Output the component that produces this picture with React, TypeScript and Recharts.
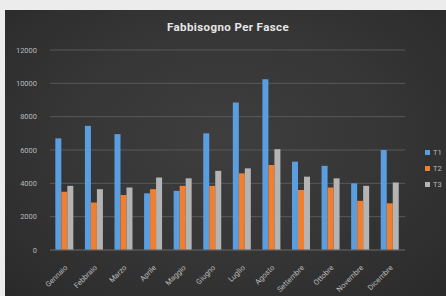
import React from 'react';
import { BarChart, Bar, XAxis, YAxis, CartesianGrid } from 'recharts';

const months = ['Gennaio', 'Febbraio', 'Marzo', 'Aprile', 'Maggio', 'Giugno', 'Luglio', 'Agosto', 'Settembre', 'Ottobre', 'Novembre', 'Dicembre'];
const t1 = [6700, 7450, 6950, 3400, 3550, 7000, 8850, 10250, 5300, 5050, 4000, 6000];
const t2 = [3500, 2850, 3300, 3650, 3850, 3850, 4600, 5100, 3600, 3750, 2950, 2800];
const t3 = [3850, 3650, 3750, 4350, 4300, 4750, 4900, 6050, 4400, 4300, 3850, 4050];
const yTicks = [0, 2000, 4000, 6000, 8000, 10000, 12000];
const seriesNames = ['T1', 'T2', 'T3'];
const seriesColors = ['#5b9ee0', '#f07f32', '#b4b4b4'];

const data = months.map((m, i) => ({ month: m, T1: t1[i], T2: t2[i], T3: t3[i] }));

const FONT = 'Roboto, "DejaVu Sans", sans-serif';

const XTick = (props: any) => {
  const { x, y, payload } = props;
  return (
    <g transform={`translate(${x + 1},${y + 8})`}>
      <text textAnchor="end" transform="rotate(-45)" fill="#b8b8b8" fontSize={7.5} fontFamily={FONT} dy={3}>
        {payload.value}
      </text>
    </g>
  );
};

export default function App() {
  return (
    <div style={{ position: 'fixed', left: 0, top: 0, width: 446, height: 296, background: '#ececec', overflow: 'hidden' }}>
      <div
        style={{
          position: 'absolute',
          left: 5,
          top: 10,
          width: 441,
          height: 286,
          background: 'radial-gradient(ellipse at 50% 45%, #3e3e3e 0%, #363636 50%, #2a2a2a 100%)',
        }}
      />
      <div
        style={{
          position: 'absolute',
          left: 0,
          top: 20,
          width: 456,
          textAlign: 'center',
          color: '#e6e6e6',
          fontFamily: FONT,
          fontWeight: 'bold',
          fontSize: 11.5,
          letterSpacing: 0.4,
        }}
      >
        Fabbisogno Per Fasce
      </div>
      <div style={{ position: 'absolute', left: 0, top: 0 }}>
        <BarChart
          width={446}
          height={296}
          data={data}
          margin={{ top: 50, right: 41, left: 10, bottom: 6 }}
          barCategoryGap="18%"
          barGap={0}
        >
          <CartesianGrid vertical={false} stroke="#595959" strokeWidth={1} />
          <XAxis
            dataKey="month"
            height={40}
            axisLine={{ stroke: '#595959' }}
            tickLine={false}
            interval={0}
            tick={<XTick />}
          />
          <YAxis
            width={40}
            domain={[0, 12000]}
            ticks={yTicks}
            axisLine={false}
            tickLine={false}
            tickMargin={7}
            tick={{ fill: '#b8b8b8', fontSize: 7.5, fontFamily: FONT }}
          />
          {seriesNames.map((n, i) => (
            <Bar key={n} dataKey={n} fill={seriesColors[i]} isAnimationActive={false} />
          ))}
        </BarChart>
      </div>
      <div style={{ position: 'absolute', left: 425, top: 144, zIndex: 2, fontFamily: FONT, fontSize: 7.5, color: '#b8b8b8' }}>
        {seriesNames.map((n, i) => (
          <div key={n} style={{ display: 'flex', alignItems: 'center', height: 16 }}>
            <span style={{ display: 'inline-block', width: 5, height: 5, background: seriesColors[i], marginRight: 3 }} />
            <span>{n}</span>
          </div>
        ))}
      </div>
    </div>
  );
}
